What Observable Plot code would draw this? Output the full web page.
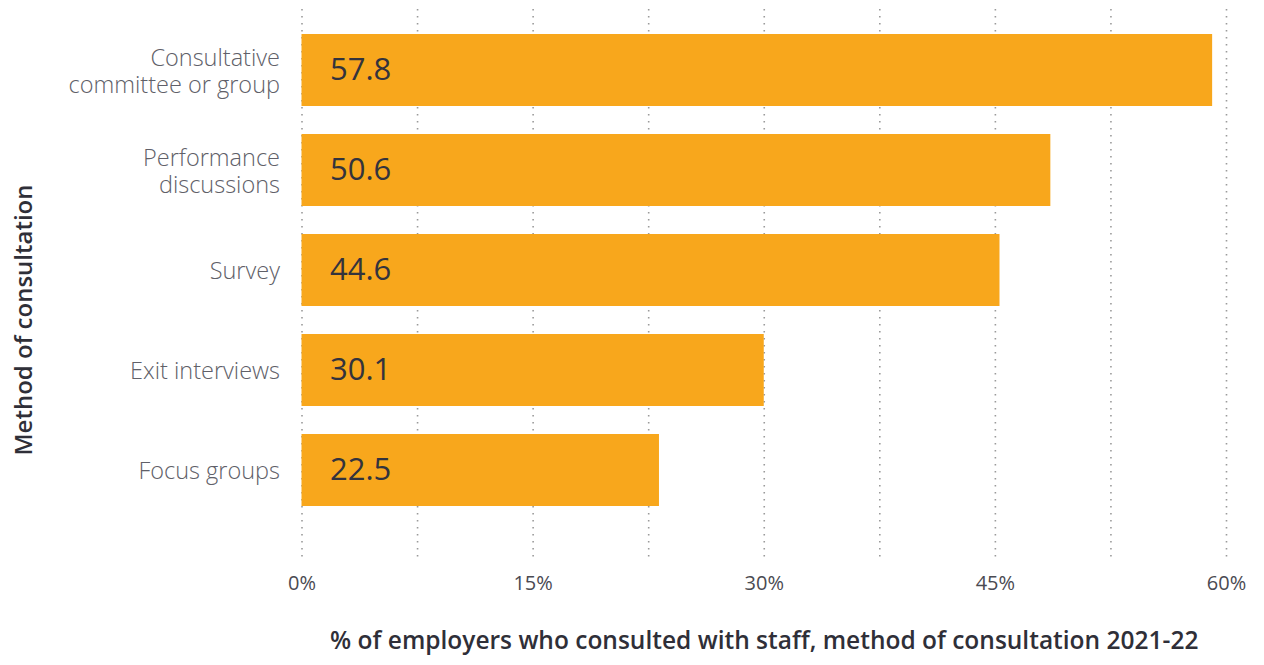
<!DOCTYPE html>
<html>
<head>
<meta charset="utf-8">
<script src="https://cdn.jsdelivr.net/npm/d3@7"></script>
<script src="https://cdn.jsdelivr.net/npm/@observablehq/plot@0.6"></script>
<style>
  html, body { margin: 0; padding: 0; background: #fff; }
  #chart { position: relative; width: 1264px; height: 665px; }
  #ytitle {
    position: absolute; left: 22px; top: 320px;
    transform: translate(-50%, -50%) rotate(-90deg);
    white-space: nowrap; font-family: 'Open Sans', 'Noto Sans', sans-serif;
    font-size: 24px; font-weight: 600; color: #2f2f38;
  }
</style>
</head>
<body>
<div id="chart"><div id="ytitle"></div></div>
<script>
const categories = [
  "Consultative\ncommittee or group",
  "Performance\ndiscussions",
  "Survey",
  "Exit interviews",
  "Focus groups"
];
// bar lengths as drawn in the picture
const barValues = [59.1, 48.6, 45.3, 30.0, 23.2];
// value labels as printed on the bars
const valueLabels = ["57.8", "50.6", "44.6", "30.1", "22.5"];
const gridTicks = [0, 7.5, 15, 22.5, 30, 37.5, 45, 52.5, 60];
const labelTicks = [0, 15, 30, 45, 60];
const xTitle = "% of employers who consulted with staff, method of consultation 2021-22";
const yTitle = "Method of consultation";

const data = categories.map((c, i) => ({cat: c, value: barValues[i], label: valueLabels[i]}));

const font = "'Open Sans', 'Noto Sans', sans-serif";

const chart = Plot.plot({
  width: 1264,
  height: 665,
  marginLeft: 301.5,
  marginRight: 38,
  marginTop: 5,
  marginBottom: 129.5,
  style: {fontFamily: font, background: "#fff"},
  x: {domain: [0, 60]},
  y: {domain: categories, padding: 0.28},
  marks: [
    Plot.ruleX(gridTicks, {
      stroke: "#9a9a9a", strokeWidth: 1.6, strokeDasharray: "1.6,5.4",
      insetTop: 4, insetBottom: -23
    }),
    Plot.barX(data, {y: "cat", x: "value", fill: "#f8a71c"}),
    Plot.text(data, {
      y: "cat", x: 0, text: "label", textAnchor: "start", dx: 28,
      fontSize: 31, fill: "#33333d", fontFamily: font
    }),
    Plot.axisY({
      tickSize: 0, tickPadding: 22, fontSize: 23.5, label: null,
      fill: "#606068", fontWeight: 300, lineHeight: 1.17
    }),
    Plot.axisX(labelTicks, {
      tickSize: 0, tickPadding: 40, fontSize: 20,
      tickFormat: d => d + "%", fill: "#4a4a52", label: null
    }),
    Plot.text([xTitle], {
      frameAnchor: "bottom", dy: 113, text: d => d,
      fontSize: 24.5, fontWeight: 600, fill: "#2f2f38"
    })
  ]
});
document.getElementById("chart").appendChild(chart);
document.getElementById("ytitle").textContent = yTitle;
</script>
</body>
</html>
